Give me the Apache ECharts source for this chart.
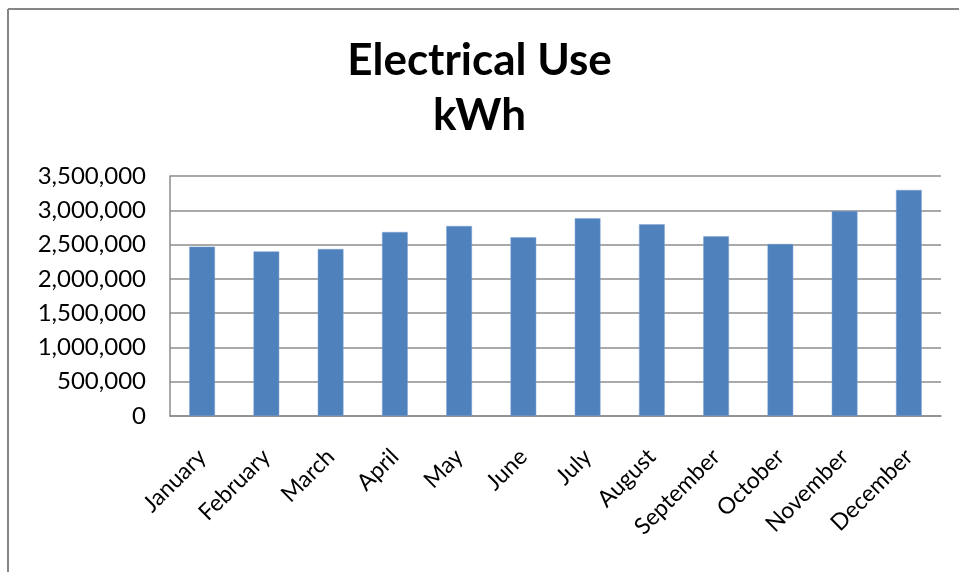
<!DOCTYPE html>
<html>
<head>
<meta charset="utf-8">
<script src="https://cdn.jsdelivr.net/npm/echarts@6/dist/echarts.min.js"></script>
<style>
  html, body { margin: 0; padding: 0; background: #fff; }
  #chart { width: 959px; height: 572px; }
</style>
</head>
<body>
<div id="chart"></div>
<script>
// Monthly electrical consumption (kWh)
const months = ['January', 'February', 'March', 'April', 'May', 'June',
                'July', 'August', 'September', 'October', 'November', 'December'];
const kwh = [2470000, 2400000, 2435000, 2683000, 2771000, 2606000,
             2883000, 2795000, 2620000, 2508000, 2990000, 3296000];
const yTicks = { min: 0, max: 3500000, step: 500000 };

const chart = echarts.init(document.getElementById('chart'), null, { renderer: 'canvas' });
const font = 'Lato, "Open Sans", sans-serif';

chart.setOption({
  backgroundColor: '#ffffff',
  animation: false,
  title: {
    text: 'Electrical Use\nkWh',
    left: 'center',
    top: 28,
    textStyle: {
      fontFamily: font,
      fontSize: 44,
      fontWeight: 'bold',
      color: '#000',
      lineHeight: 55
    }
  },
  graphic: [
    // chart frame: top and left edges
    { type: 'line', shape: { x1: 8, y1: 9, x2: 959, y2: 9 }, style: { stroke: '#868686', lineWidth: 2 } },
    { type: 'line', shape: { x1: 8, y1: 9, x2: 8, y2: 572 }, style: { stroke: '#868686', lineWidth: 2 } }
  ],
  grid: { left: 170, right: 18, top: 176, bottom: 156, containLabel: false },
  xAxis: {
    type: 'category',
    data: months,
    axisLine: { show: true, lineStyle: { color: '#8c8c8c', width: 1.5 } },
    axisTick: { show: false },
    axisLabel: {
      rotate: 45,
      margin: 37,
      interval: 0,
      fontFamily: font,
      fontSize: 23,
      color: '#000'
    }
  },
  yAxis: {
    type: 'value',
    min: yTicks.min,
    max: yTicks.max,
    interval: yTicks.step,
    axisLine: { show: true, lineStyle: { color: '#8c8c8c', width: 1.5 } },
    axisTick: { show: false },
    splitLine: { show: true, lineStyle: { color: '#8c8c8c', width: 1.5 } },
    axisLabel: {
      margin: 24,
      fontFamily: font,
      fontSize: 24,
      color: '#000',
      formatter: v => v.toLocaleString('en-US')
    }
  },
  series: [{
    type: 'bar',
    data: kwh,
    barWidth: '40%',
    itemStyle: { color: '#4F81BD', borderColor: '#7EA3D2', borderWidth: 0.5 }
  }]
});
</script>
</body>
</html>
